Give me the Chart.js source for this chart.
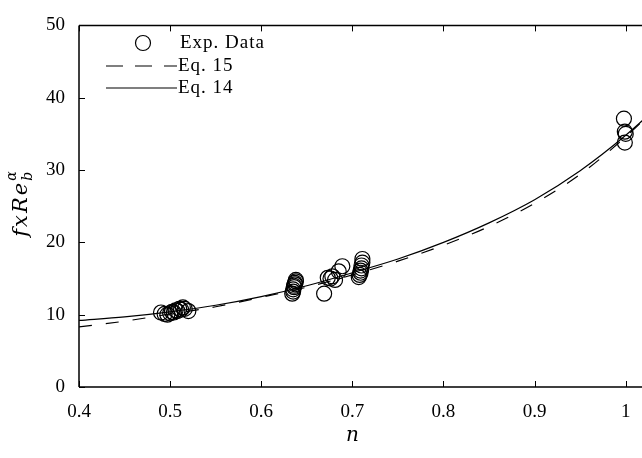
<!DOCTYPE html>
<html>
<head>
<meta charset="utf-8">
<script src="https://cdn.jsdelivr.net/npm/chart.js@4.4.1/dist/chart.umd.min.js"></script>
<style>
  html, body { margin: 0; padding: 0; overflow: hidden; background: #fff; }
</style>
</head>
<body>
<canvas id="chart" width="680" height="458"></canvas>
<script>
// experimental points (n, f x Re_b^alpha)
const expN = [0.490, 0.494, 0.497, 0.500, 0.502, 0.504, 0.506, 0.508, 0.510, 0.512, 0.514, 0.516, 0.520,
              0.634, 0.635, 0.635, 0.636, 0.636, 0.637, 0.637, 0.638, 0.638,
              0.669, 0.673, 0.676, 0.681, 0.678, 0.685, 0.689,
              0.707, 0.708, 0.709, 0.709, 0.710, 0.710, 0.711, 0.711,
              0.998, 0.999, 1.000, 0.999];
const expF = [10.3, 10.1, 10.0, 10.2, 10.4, 10.3, 10.6, 10.5, 10.8, 10.7, 11.0, 10.8, 10.5,
              12.9, 13.2, 13.5, 13.8, 14.0, 14.2, 14.4, 14.6, 14.8,
              12.9, 15.1, 15.0, 14.8, 15.3, 16.0, 16.7,
              15.2, 15.5, 15.8, 16.1, 16.4, 16.8, 17.2, 17.7,
              37.1, 35.3, 35.0, 33.8];

// Eq. 15 (dashed)
const eq15N = [0.40, 0.45, 0.50, 0.55, 0.60, 0.65, 0.70, 0.75, 0.80, 0.85, 0.90, 0.95, 1.00, 1.05];
const eq15F = [8.3, 9.1, 10.1, 11.1, 12.4, 13.8, 15.5, 17.4, 19.6, 22.2, 25.4, 29.4, 34.6, 40.6];

// Eq. 14 (solid)
const eq14N = [0.40, 0.45, 0.50, 0.55, 0.60, 0.65, 0.70, 0.75, 0.80, 0.85, 0.90, 0.95, 1.00, 1.05];
const eq14F = [9.2, 9.7, 10.4, 11.3, 12.5, 14.0, 15.8, 17.7, 20.0, 22.7, 25.9, 29.9, 34.8, 40.5];

const xTicks = [0.4, 0.5, 0.6, 0.7, 0.8, 0.9, 1.0];
const yTicks = [0, 10, 20, 30, 40, 50];

const serif = "'Liberation Serif', 'DejaVu Serif', serif";
const mathFont = "'DejaVu Serif', serif";

function pts(xs, ys) {
    return xs.map((x, i) => ({ x: x, y: ys[i] }));
}

// frame, inward ticks, axis titles and legend
const decor = {
    id: 'decor',
    afterDraw(chart) {
        const ctx = chart.ctx;
        const a = chart.chartArea;
        const xs = chart.scales.x, ys = chart.scales.y;
        ctx.save();
        ctx.strokeStyle = '#000';
        ctx.lineWidth = 1.5;
        ctx.beginPath();
        ctx.moveTo(a.left, a.top); ctx.lineTo(a.right, a.top);
        ctx.moveTo(a.left, a.top); ctx.lineTo(a.left, a.bottom);
        ctx.moveTo(a.left, a.bottom); ctx.lineTo(a.right, a.bottom);
        ctx.moveTo(a.right, a.top); ctx.lineTo(a.right, a.bottom);
        ctx.stroke();

        ctx.lineWidth = 1;
        ctx.beginPath();
        xTicks.forEach(v => {
            const px = Math.round(xs.getPixelForValue(v)) + 0.5;
            ctx.moveTo(px, a.bottom); ctx.lineTo(px, a.bottom - 6);
            ctx.moveTo(px, a.top); ctx.lineTo(px, a.top + 6);
        });
        yTicks.forEach(v => {
            const py = Math.round(ys.getPixelForValue(v)) + 0.5;
            ctx.moveTo(a.left, py); ctx.lineTo(a.left + 6, py);
            ctx.moveTo(a.right, py); ctx.lineTo(a.right - 6, py);
        });
        ctx.stroke();

        // x title
        ctx.fillStyle = '#000';
        ctx.textAlign = 'center';
        ctx.textBaseline = 'middle';
        ctx.font = 'italic 20px ' + mathFont;
        ctx.fillText('n', xs.getPixelForValue(0.7), 436);

        // y title: f x Re_b^alpha
        ctx.save();
        ctx.translate(27, 203);
        ctx.rotate(-Math.PI / 2);
        ctx.textAlign = 'left';
        ctx.textBaseline = 'alphabetic';
        ctx.letterSpacing = '2px';
        ctx.font = 'italic 21px ' + mathFont;
        const main = 'fxRe';
        const wMain = ctx.measureText(main).width;
        ctx.font = 'italic 14px ' + mathFont;
        const wSub = Math.max(ctx.measureText('b').width, ctx.measureText('α').width);
        const x0 = -(wMain + wSub) / 2;
        ctx.font = 'italic 21px ' + mathFont;
        ctx.fillText(main, x0, 0);
        ctx.font = 'italic 14px ' + mathFont;
        ctx.fillText('b', x0 + wMain, 5);
        ctx.fillText('α', x0 + wMain, -11);
        ctx.restore();

        // legend
        ctx.font = '19px ' + serif;
        ctx.letterSpacing = '1px';
        ctx.textAlign = 'left';
        ctx.textBaseline = 'middle';
        ctx.lineWidth = 1.2;
        ctx.beginPath();
        ctx.arc(143, 43, 7.5, 0, Math.PI * 2);
        ctx.stroke();
        ctx.fillText('Exp. Data', 180, 43);

        ctx.setLineDash([17, 12]);
        ctx.beginPath();
        ctx.moveTo(106, 66); ctx.lineTo(177, 66);
        ctx.stroke();
        ctx.setLineDash([]);
        ctx.fillText('Eq. 15', 178, 66);

        ctx.beginPath();
        ctx.moveTo(106, 88); ctx.lineTo(177, 88);
        ctx.stroke();
        ctx.fillText('Eq. 14', 178, 88);
        ctx.restore();
    }
};

const ctx = document.getElementById('chart').getContext('2d');
new Chart(ctx, {
    type: 'scatter',
    data: {
        datasets: [
            {
                label: 'Exp. Data',
                data: pts(expN, expF),
                pointStyle: 'circle',
                pointRadius: 7.5,
                pointBorderWidth: 1.2,
                pointBorderColor: '#000',
                pointBackgroundColor: 'rgba(0,0,0,0)',
                showLine: false,
                order: 2
            },
            {
                label: 'Eq. 15',
                data: pts(eq15N, eq15F),
                showLine: true,
                borderColor: '#000',
                borderWidth: 1.2,
                borderDash: [13, 14],
                pointRadius: 0,
                cubicInterpolationMode: 'monotone',
                order: 1
            },
            {
                label: 'Eq. 14',
                data: pts(eq14N, eq14F),
                showLine: true,
                borderColor: '#000',
                borderWidth: 1.2,
                pointRadius: 0,
                cubicInterpolationMode: 'monotone',
                order: 0
            }
        ]
    },
    options: {
        responsive: false,
        animation: false,
        layout: { padding: { top: 14, right: 7, left: 0, bottom: 0 } },
        plugins: {
            legend: { display: false },
            tooltip: { enabled: false }
        },
        scales: {
            x: {
                type: 'linear',
                min: 0.4,
                max: 1.05,
                afterFit: s => { s.height = 71; },
                afterBuildTicks: s => { s.ticks = xTicks.map(v => ({ value: v })); },
                grid: { display: false, drawTicks: false },
                border: { display: false },
                ticks: {
                    padding: 14,
                    color: '#000',
                    font: { family: serif, size: 19 },
                    callback: v => (v === 1 ? '1' : v.toFixed(1))
                }
            },
            y: {
                type: 'linear',
                min: 0,
                max: 50,
                afterFit: s => { s.width = 79; },
                afterBuildTicks: s => { s.ticks = yTicks.map(v => ({ value: v })); },
                grid: { display: false, drawTicks: false },
                border: { display: false },
                ticks: {
                    padding: 14,
                    color: '#000',
                    font: { family: serif, size: 19 }
                }
            }
        }
    },
    plugins: [decor]
});
</script>
</body>
</html>
